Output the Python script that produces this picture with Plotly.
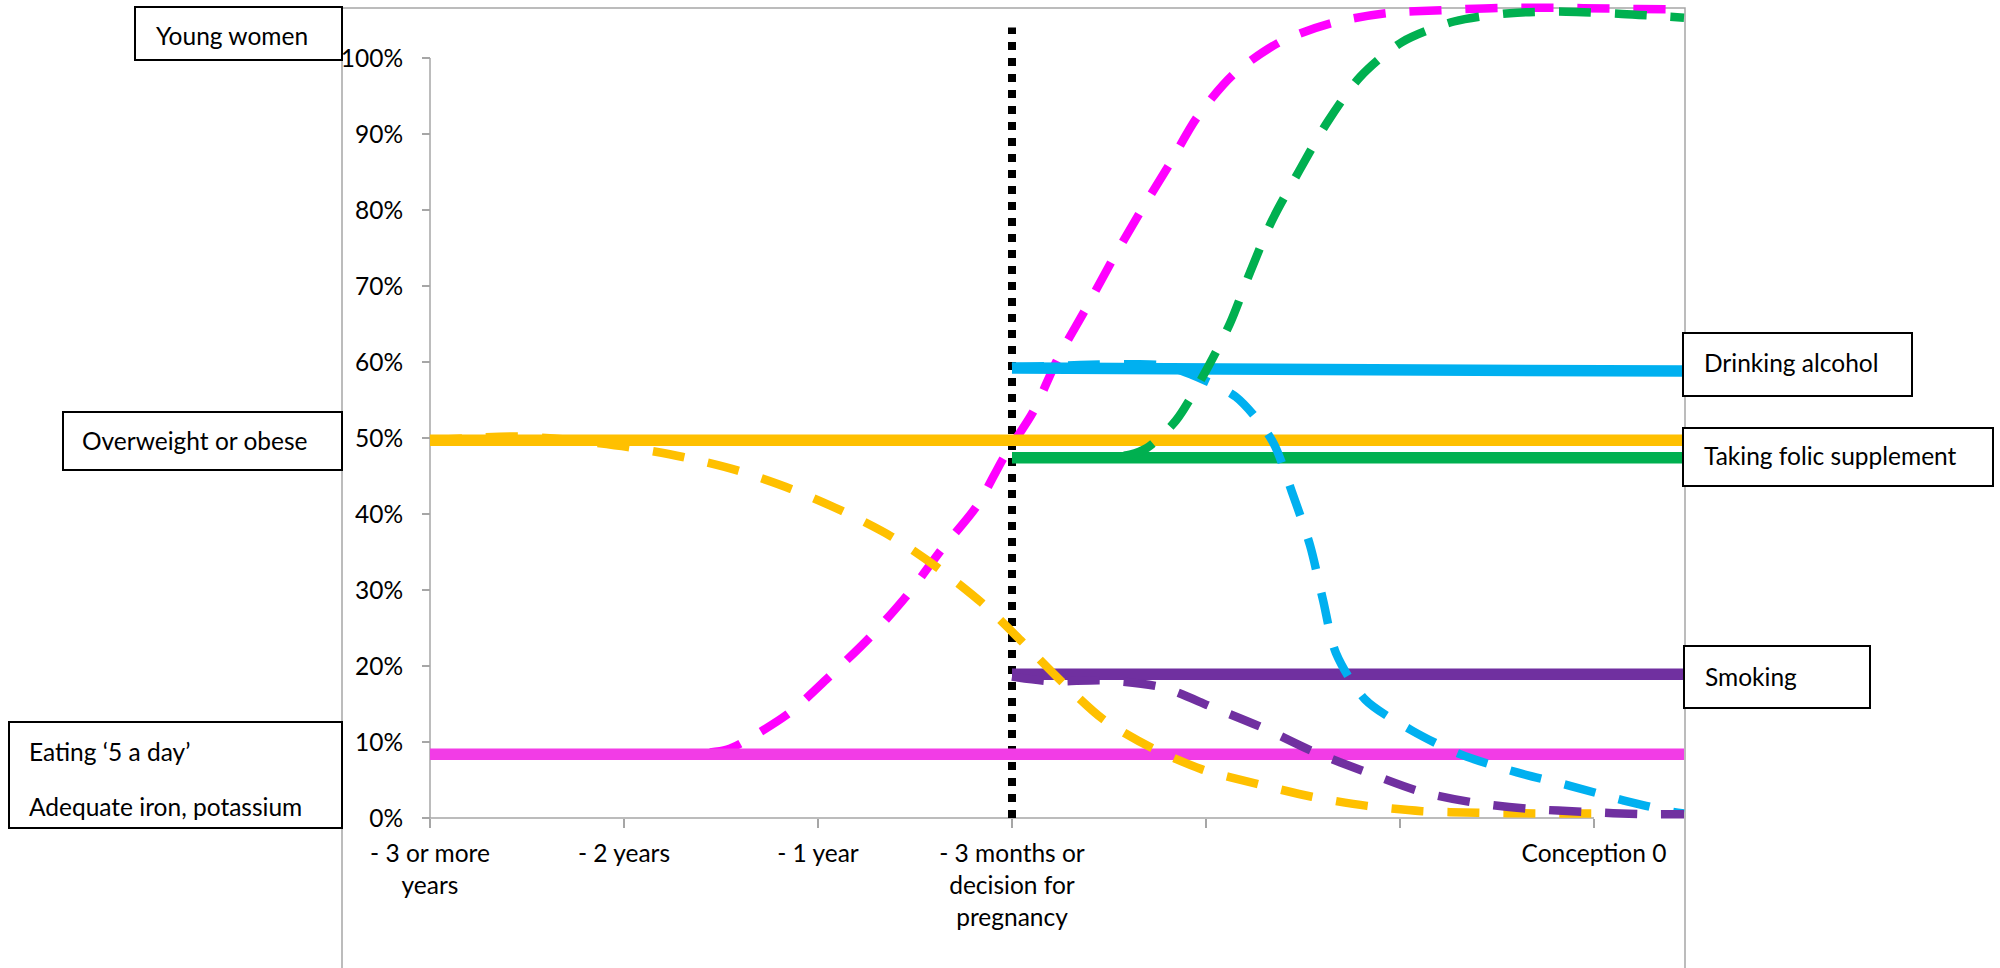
import plotly.graph_objects as go

# ---------------------------------------------------------------------------
# Axis categories and labels
# ---------------------------------------------------------------------------
stage_positions = [0, 1, 2, 3, 4, 5, 6]
stage_labels = ["- 3 or more<br>years", "- 2 years", "- 1 year",
                "- 3 months or<br>decision for<br>pregnancy", "", "", "Conception 0"]
pct_ticks = [0, 10, 20, 30, 40, 50, 60, 70, 80, 90, 100]
pct_labels = [f"{v}%" for v in pct_ticks]

# extent of the lines along the time axis
line_start = 0.0
decision_point = 3.0
line_end = 6.464
dotted_top = 104.0

# ---------------------------------------------------------------------------
# Current prevalence (solid lines)
# ---------------------------------------------------------------------------
eating_level_x = [line_start, line_end]
eating_level_y = [8.4, 8.4]
overweight_level_x = [line_start, line_end]
overweight_level_y = [49.7, 49.7]
alcohol_level_x = [decision_point, line_end]
alcohol_level_y = [59.2, 58.8]
folic_level_x = [decision_point, line_end]
folic_level_y = [47.4, 47.4]
smoking_level_x = [decision_point, line_end]
smoking_level_y = [18.9, 18.9]

# ---------------------------------------------------------------------------
# Hoped-for trajectories (dashed lines)
# ---------------------------------------------------------------------------
eating_goal_x = [0.0, 0.876, 1.340, 1.531, 1.608, 1.851, 2.062, 2.268, 2.459, 2.639,
                 2.820, 2.959, 3.108, 3.237, 3.376, 3.515, 3.660, 3.809, 3.954, 4.144,
                 4.381, 4.649, 4.933, 5.216, 5.515, 5.799, 6.088, 6.376, 6.464]
eating_goal_y = [8.4, 8.4, 8.4, 9.0, 9.9, 13.8, 18.7, 23.8, 29.3, 35.4,
                 41.1, 47.5, 53.4, 60.5, 66.8, 73.3, 79.7, 85.9, 92.2, 97.9,
                 102.1, 104.6, 105.9, 106.3, 106.6, 106.6, 106.5, 106.4, 106.4]

overweight_goal_x = [0.0, 0.206, 0.448, 0.696, 1.021, 1.304, 1.588, 1.861, 2.124, 2.381,
                     2.613, 2.845, 3.052, 3.258, 3.469, 3.722, 3.979, 4.263, 4.546, 4.830,
                     5.113, 5.402, 5.696, 6.0]
overweight_goal_y = [49.7, 50.0, 50.2, 49.8, 48.8, 47.5, 45.7, 43.3, 40.4, 37.0,
                     33.0, 28.3, 23.2, 17.9, 13.0, 9.2, 6.4, 4.5, 2.8, 1.6,
                     0.9, 0.7, 0.6, 0.6]

alcohol_goal_x = [3.0, 3.351, 3.634, 3.789, 3.918, 4.155, 4.340, 4.443, 4.536, 4.603,
                  4.670, 4.820, 5.062, 5.309, 5.603, 5.881, 6.155, 6.407, 6.464]
alcohol_goal_y = [59.3, 59.6, 59.7, 59.5, 58.4, 55.4, 49.7, 42.9, 35.9, 28.7,
                  21.7, 15.6, 11.5, 8.4, 6.0, 4.2, 2.3, 0.8, 0.6]

folic_goal_x = [3.0, 3.454, 3.608, 3.696, 3.845, 3.990, 4.124, 4.227, 4.340, 4.479,
                4.624, 4.794, 5.010, 5.278, 5.567, 5.856, 6.144, 6.464]
folic_goal_y = [47.4, 47.4, 47.8, 48.7, 52.3, 58.4, 65.1, 71.8, 78.6, 85.1,
                91.5, 97.5, 102.1, 104.8, 105.9, 106.1, 105.8, 105.3]

smoking_goal_x = [3.0, 3.196, 3.485, 3.773, 4.031, 4.299, 4.557, 4.830, 5.103, 5.387,
                  5.670, 5.959, 6.247, 6.464]
smoking_goal_y = [18.6, 18.0, 18.1, 17.2, 14.6, 11.8, 8.7, 6.0, 3.5, 2.0,
                  1.2, 0.8, 0.5, 0.5]

# ---------------------------------------------------------------------------
# Styling
# ---------------------------------------------------------------------------
FONT = "Lato, 'Open Sans', sans-serif"
FONT_SIZE = 24.5
PINK = "#F23CE6"
MAGENTA = "#FF00FF"
AMBER = "#FFC000"
SKY = "#00B0F0"
GREEN = "#00B050"
PURPLE = "#7030A0"
AXIS_GREY = "#A6A6A6"
SOLID_W = 11.5
DASH_W = 8.5
DASH = "32px,24px"

W, H = 2000, 968
# plot scale: category step and percent step in pixels, origin at (430, 818)
X0_PX, X_STEP = 430, 194
Y0_PX, Y_STEP = 818, 7.6


def px_x(p):
    return (p - X0_PX) / X_STEP


def px_y(p):
    return (Y0_PX - p) / Y_STEP


fig = go.Figure()


def line(x, y, color, width, dash="solid"):
    fig.add_trace(go.Scatter(
        x=x, y=y, mode="lines", hoverinfo="skip", showlegend=False,
        line=dict(color=color, width=width, dash=dash,
                  shape="linear" if len(x) == 2 else "spline", smoothing=0.8),
    ))


# decision marker
line([decision_point, decision_point], [0, dotted_top], "black", 8, "8px,8px")

# dashed trajectory hidden beneath the solid pink line
line(eating_goal_x, eating_goal_y, MAGENTA, DASH_W, DASH)

# solid current levels
line(eating_level_x, eating_level_y, PINK, SOLID_W)
line(overweight_level_x, overweight_level_y, AMBER, SOLID_W)
line(alcohol_level_x, alcohol_level_y, SKY, SOLID_W)
line(folic_level_x, folic_level_y, GREEN, SOLID_W)
line(smoking_level_x, smoking_level_y, PURPLE, SOLID_W)

# dashed trajectories
line(overweight_goal_x, overweight_goal_y, AMBER, DASH_W, DASH)
line(alcohol_goal_x, alcohol_goal_y, SKY, DASH_W, DASH)
line(folic_goal_x, folic_goal_y, GREEN, DASH_W, DASH)
line(smoking_goal_x, smoking_goal_y, PURPLE, DASH_W, DASH)

shapes = [
    # chart frame
    dict(type="rect", xref="x", yref="y", x0=px_x(342), x1=px_x(1685),
         y0=px_y(990), y1=px_y(8), line=dict(color=AXIS_GREY, width=1.5),
         layer="below"),
    # axis lines
    dict(type="line", xref="x", yref="y", x0=0, x1=0, y0=0, y1=100,
         line=dict(color=AXIS_GREY, width=1.5), layer="below"),
    dict(type="line", xref="x", yref="y", x0=0, x1=6, y0=0, y1=0,
         line=dict(color=AXIS_GREY, width=1.5), layer="below"),
]

annotations = []


def label_box(x0, y0, x1, y1, lines):
    shapes.append(dict(type="rect", xref="x", yref="y",
                       x0=px_x(x0), x1=px_x(x1), y0=px_y(y1), y1=px_y(y0),
                       line=dict(color="black", width=2), fillcolor="white",
                       layer="above"))
    for tx, ty, text in lines:
        annotations.append(dict(x=px_x(tx), y=px_y(ty), xref="x", yref="y",
                                text=text, showarrow=False, xanchor="left",
                                yanchor="middle", borderpad=0,
                                font=dict(family=FONT, size=FONT_SIZE, color="black")))


label_box(135, 7, 342, 60, [(155, 35, "Young women")])
label_box(63, 412, 342, 470, [(81, 440, "Overweight or obese")])
label_box(9, 722, 342, 828, [(28, 751, "Eating ‘5 a day’"),
                              (28, 806, "Adequate iron, potassium")])
label_box(1683, 333, 1912, 396, [(1703, 362, "Drinking alcohol")])
label_box(1683, 428, 1993, 486, [(1703, 455, "Taking folic supplement")])
label_box(1684, 646, 1870, 708, [(1704, 676, "Smoking")])

fig.update_layout(
    width=W, height=H,
    margin=dict(l=0, r=0, t=0, b=0),
    paper_bgcolor="white", plot_bgcolor="white",
    showlegend=False,
    font=dict(family=FONT, size=FONT_SIZE, color="black"),
    xaxis=dict(range=[px_x(0), px_x(W)], domain=[0, 1],
               anchor="free", position=(H - Y0_PX) / H,
               tickmode="array", tickvals=stage_positions, ticktext=stage_labels,
               ticks="outside", ticklen=9, tickwidth=1.5, tickcolor=AXIS_GREY,
               ticklabelstandoff=5,
               showgrid=False, zeroline=False, showline=False, fixedrange=True,
               tickfont=dict(family=FONT, size=FONT_SIZE, color="black")),
    yaxis=dict(range=[px_y(H), px_y(0)], domain=[0, 1],
               anchor="free", position=X0_PX / W,
               tickmode="array", tickvals=pct_ticks, ticktext=pct_labels,
               ticks="outside", ticklen=8, tickwidth=1.5, tickcolor=AXIS_GREY,
               ticklabelstandoff=14,
               showgrid=False, zeroline=False, showline=False, fixedrange=True,
               tickfont=dict(family=FONT, size=FONT_SIZE, color="black")),
    shapes=shapes,
    annotations=annotations,
)

fig.write_html("out.html", config={"displayModeBar": False})
